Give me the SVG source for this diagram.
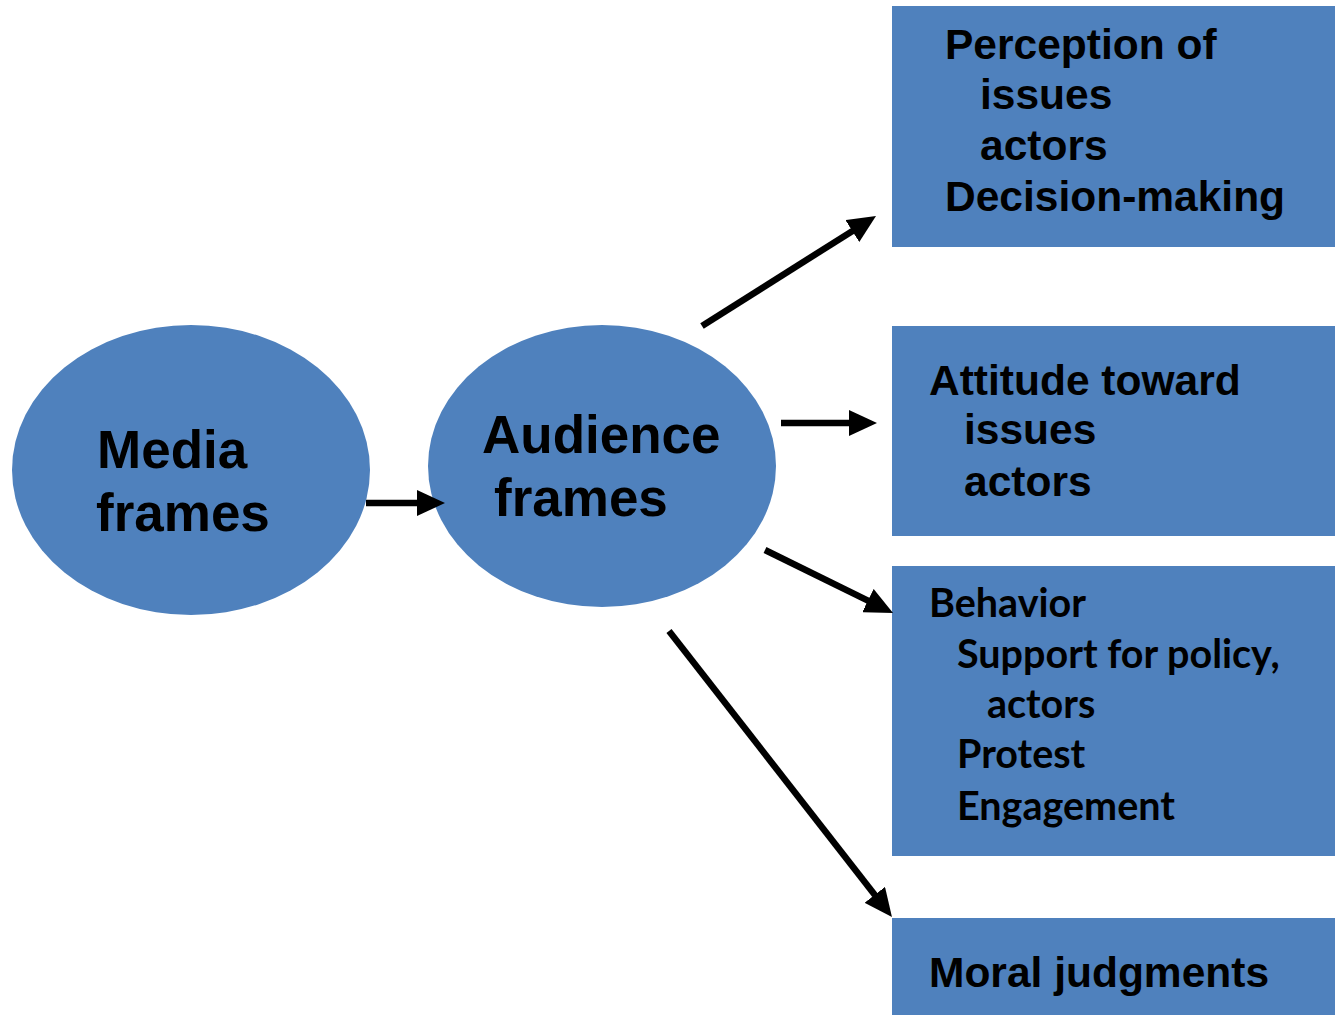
<svg xmlns="http://www.w3.org/2000/svg" width="1335" height="1015" viewBox="0 0 1335 1015">
  <style>
    .shape { fill: #4F81BD; }
    .arial { font-family: "Liberation Sans", Arial, sans-serif; font-weight: bold; fill: #000; }
    .calibri { font-family: Lato, "Open Sans", sans-serif; font-weight: bold; fill: #000; font-size: 39.5px; }
    .big { font-size: 53px; }
    .mid { font-size: 42.5px; }
    .conn { stroke: #000; stroke-width: 6.5; fill: none; }
  </style>
  <defs>
    <marker id="head" viewBox="0 0 28 26" refX="4" refY="13" markerWidth="28" markerHeight="26" markerUnits="userSpaceOnUse" orient="auto">
      <path d="M0,0 L28,13 L0,26 Z" fill="#000"/>
    </marker>
  </defs>
  <rect width="1335" height="1015" fill="#fff"/>

  <!-- ellipses -->
  <g id="media-frames">
    <ellipse class="shape" cx="191" cy="470" rx="179" ry="145"/>
    <text class="arial big" x="97" y="468">Media</text>
    <text class="arial big" x="96" y="531">frames</text>
  </g>
  <g id="audience-frames">
    <ellipse class="shape" cx="602" cy="466" rx="174" ry="141"/>
    <text class="arial big" x="482" y="453">Audience</text>
    <text class="arial big" x="494" y="516">frames</text>
  </g>

  <!-- outcome boxes -->
  <g id="perception">
    <rect class="shape" x="892" y="6" width="443" height="241"/>
    <text class="arial mid" x="945" y="59">Perception of</text>
    <text class="arial mid" x="980" y="109">issues</text>
    <text class="arial mid" x="980" y="160">actors</text>
    <text class="arial mid" x="945" y="211">Decision-making</text>
  </g>
  <g id="attitude">
    <rect class="shape" x="892" y="326" width="443" height="210"/>
    <text class="arial mid" x="929" y="395">Attitude toward</text>
    <text class="arial mid" x="964" y="444">issues</text>
    <text class="arial mid" x="964" y="496">actors</text>
  </g>
  <g id="behavior">
    <rect class="shape" x="892" y="566" width="443" height="290"/>
    <text class="calibri" x="929" y="617">Behavior</text>
    <text class="calibri" x="957" y="668">Support for policy,</text>
    <text class="calibri" x="987" y="718">actors</text>
    <text class="calibri" x="957" y="768">Protest</text>
    <text class="calibri" x="957" y="820">Engagement</text>
  </g>
  <g id="moral">
    <rect class="shape" x="892" y="918" width="443" height="97"/>
    <text class="arial mid" x="929" y="987">Moral judgments</text>
  </g>

  <!-- connectors -->
  <g id="connectors">
    <line class="conn" x1="366" y1="503" x2="421" y2="503" marker-end="url(#head)"/>
    <line class="conn" x1="702" y1="326" x2="855.7" y2="228.9" marker-end="url(#head)"/>
    <line class="conn" x1="781" y1="423" x2="853" y2="423" marker-end="url(#head)"/>
    <line class="conn" x1="765" y1="550" x2="871.5" y2="602.4" marker-end="url(#head)"/>
    <line class="conn" x1="669" y1="631" x2="877.2" y2="898" marker-end="url(#head)"/>
  </g>
</svg>
